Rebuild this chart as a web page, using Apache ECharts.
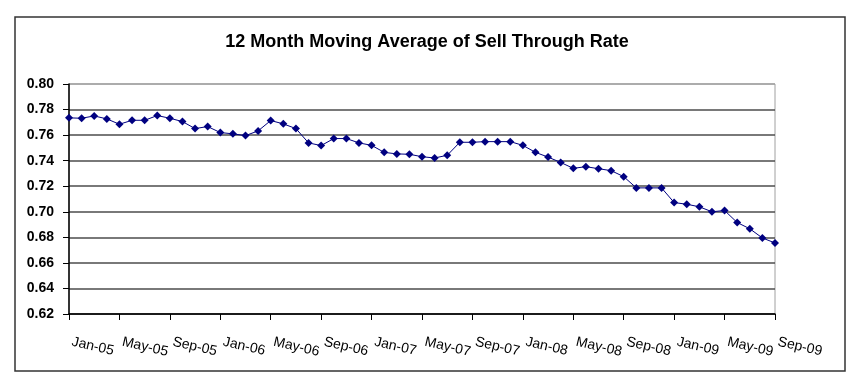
<!DOCTYPE html>
<html>
<head>
<meta charset="utf-8">
<script src="https://cdn.jsdelivr.net/npm/echarts@6/dist/echarts.min.js"></script>
<style>
html,body{margin:0;padding:0;background:#fff;}
#chart{width:854px;height:381px;}
</style>
</head>
<body>
<div id="chart"></div>
<script>
var months = [
  'Jan-05','Feb-05','Mar-05','Apr-05','May-05','Jun-05','Jul-05','Aug-05','Sep-05','Oct-05','Nov-05','Dec-05',
  'Jan-06','Feb-06','Mar-06','Apr-06','May-06','Jun-06','Jul-06','Aug-06','Sep-06','Oct-06','Nov-06','Dec-06',
  'Jan-07','Feb-07','Mar-07','Apr-07','May-07','Jun-07','Jul-07','Aug-07','Sep-07','Oct-07','Nov-07','Dec-07',
  'Jan-08','Feb-08','Mar-08','Apr-08','May-08','Jun-08','Jul-08','Aug-08','Sep-08','Oct-08','Nov-08','Dec-08',
  'Jan-09','Feb-09','Mar-09','Apr-09','May-09','Jun-09','Jul-09','Aug-09','Sep-09'
];
var sellThroughRate = [
  0.7735,0.7732,0.7750,0.7727,0.7685,0.7716,0.7716,0.7753,0.7732,0.7706,0.7651,0.7667,
  0.7620,0.7610,0.7596,0.7633,0.7714,0.7688,0.7651,0.7539,0.7518,0.7573,0.7573,0.7539,
  0.7520,0.7465,0.7453,0.7450,0.7431,0.7421,0.7442,0.7544,0.7544,0.7549,0.7549,0.7549,
  0.7520,0.7465,0.7428,0.7386,0.7340,0.7353,0.7337,0.7322,0.7275,0.7187,0.7187,0.7187,
  0.7072,0.7059,0.7039,0.7000,0.7010,0.6916,0.6867,0.6795,0.6756
];
var titleText = '12 Month Moving Average of Sell Through Rate';
var yMin = 0.62, yMax = 0.80, yStep = 0.02;

var chart = echarts.init(document.getElementById('chart'), null, {renderer: 'canvas'});
var gridColors = [];
for (var k = 0; k < 9; k++) gridColors.push('#4d4d4d');
gridColors.push('#a0a0a0');
var every4 = function (index) { return index % 4 === 0; };

chart.setOption({
  animation: false,
  backgroundColor: '#fff',
  title: {
    text: titleText,
    left: 'center',
    top: 28,
    textStyle: {fontFamily: 'Liberation Sans, Arial, sans-serif', fontSize: 18, fontWeight: 'bold', color: '#000'}
  },
  graphic: [{
    type: 'rect',
    shape: {x: 15, y: 17, width: 830, height: 354},
    style: {fill: 'none', stroke: '#333', lineWidth: 1.5},
    silent: true, z: -1
  }],
  grid: {
    left: 69, right: 79, top: 84, bottom: 67,
    show: true, borderColor: '#a0a0a0', borderWidth: 1, backgroundColor: 'transparent'
  },
  xAxis: {
    type: 'category',
    data: months,
    boundaryGap: false,
    axisLine: {lineStyle: {color: '#000', width: 1.5}},
    axisTick: {show: true, interval: every4, length: 6, lineStyle: {color: '#000', width: 1}},
    axisLabel: {
      interval: every4, rotate: -13, margin: 27, padding: [0, 0, 0, 3],
      showMinLabel: true, showMaxLabel: true, hideOverlap: false,
      fontFamily: 'Liberation Sans, Arial, sans-serif', fontSize: 14, color: '#000'
    },
    splitLine: {show: false}
  },
  yAxis: {
    type: 'value',
    min: yMin, max: yMax, interval: yStep,
    axisLine: {show: true, lineStyle: {color: '#000', width: 1.5}},
    axisTick: {show: true, length: 6, lineStyle: {color: '#000'}},
    axisLabel: {
      margin: 15,
      formatter: function (v) { return v.toFixed(2); },
      fontFamily: 'Liberation Sans, Arial, sans-serif', fontSize: 14, fontWeight: 'bold', color: '#000'
    },
    splitLine: {show: true, lineStyle: {color: gridColors, width: 1.5}}
  },
  series: [{
    type: 'line',
    data: sellThroughRate,
    symbol: 'diamond',
    symbolSize: 8,
    showAllSymbol: true,
    lineStyle: {color: '#000080', width: 1},
    itemStyle: {color: '#000080'}
  }]
});
</script>
</body>
</html>
